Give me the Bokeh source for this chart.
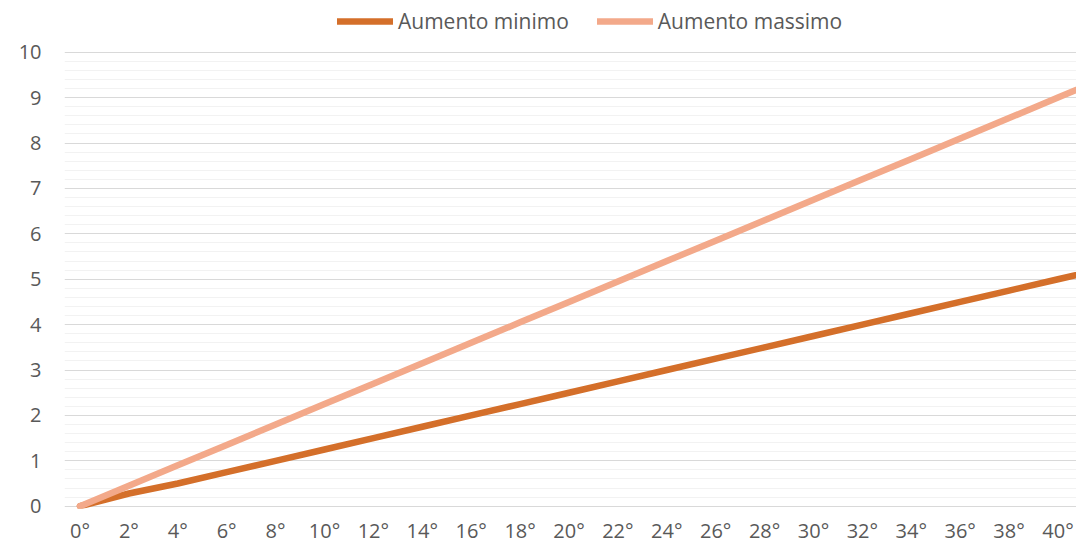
from bokeh.plotting import figure
from bokeh.models import Range1d, FixedTicker, Legend, LegendItem
from bokeh.embed import file_html
from bokeh.resources import INLINE

# ---- data ----
degrees = [0, 2, 4, 6, 8, 10, 12, 14, 16, 18, 20, 22, 24, 26, 28, 30, 32, 34, 36, 38, 40, 42]
aumento_minimo = [0.0, 0.28, 0.5, 0.75, 1.0, 1.25, 1.5, 1.75, 2.0, 2.25, 2.5, 2.75, 3.0, 3.25, 3.5, 3.75,
                  4.0, 4.25, 4.5, 4.75, 5.0, 5.25]
aumento_massimo = [0.0, 0.45, 0.9, 1.35, 1.8, 2.25, 2.7, 3.15, 3.6, 4.05, 4.5, 4.95, 5.4, 5.85, 6.3, 6.75,
                   7.2, 7.65, 8.1, 8.55, 9.0, 9.45]
x_ticks = [0, 2, 4, 6, 8, 10, 12, 14, 16, 18, 20, 22, 24, 26, 28, 30, 32, 34, 36, 38, 40]
x_tick_labels = {t: f"{t}°" for t in x_ticks}
y_ticks = [0, 1, 2, 3, 4, 5, 6, 7, 8, 9, 10]
series_names = ["Aumento minimo", "Aumento massimo"]

FONT = "Open Sans"
TXT = "#595959"
C_MIN = "#D46F2A"
C_MAX = "#F3A98A"

p = figure(width=1076, height=546, output_backend="svg", toolbar_location=None,
           x_range=Range1d(-0.634, 40.757), y_range=Range1d(-0.05, 11.139),
           min_border_left=64, min_border_right=0, min_border_top=0, min_border_bottom=38)
p.outline_line_color = None
p.background_fill_color = "white"
p.border_fill_color = "white"

r_min = p.line(degrees, aumento_minimo, line_color=C_MIN, line_width=6.5, line_cap="round", line_join="round")
r_max = p.line(degrees, aumento_massimo, line_color=C_MAX, line_width=6.5, line_cap="round", line_join="round")

# axes
p.xaxis.ticker = FixedTicker(ticks=x_ticks)
p.xaxis.major_label_overrides = x_tick_labels
minor_y = [round(i * 0.2, 1) for i in range(0, 51) if i % 5 != 0]
p.yaxis.ticker = FixedTicker(ticks=y_ticks, minor_ticks=minor_y)
for ax in (p.xaxis[0], p.yaxis[0]):
    ax.axis_line_color = None
    ax.major_tick_line_color = None
    ax.minor_tick_line_color = None
    ax.major_tick_out = 0
    ax.minor_tick_out = 0
    ax.major_tick_in = 0
    ax.minor_tick_in = 0
    ax.major_label_text_font = FONT
    ax.major_label_text_font_size = "20px"
    ax.major_label_text_color = TXT
p.xaxis.major_label_standoff = 8
p.yaxis.major_label_standoff = 23

p.xgrid.grid_line_color = None
p.ygrid.grid_line_color = "#d9d9d9"
p.ygrid.grid_line_width = 1
p.ygrid.minor_grid_line_color = "#f2f2f2"
p.ygrid.minor_grid_line_width = 1

legend = Legend(items=[LegendItem(label=series_names[0], renderers=[r_min]),
                       LegendItem(label=series_names[1], renderers=[r_max])],
                orientation="horizontal", location=(273, 473))
legend.label_text_font = FONT
legend.label_text_font_size = "21px"
legend.label_text_color = TXT
legend.glyph_width = 56
legend.glyph_height = 20
legend.label_standoff = 5
legend.spacing = 28
legend.padding = 0
legend.margin = 0
legend.border_line_color = None
legend.background_fill_alpha = 0
p.add_layout(legend, "center")

open("out.html", "w").write(file_html(p, INLINE))
